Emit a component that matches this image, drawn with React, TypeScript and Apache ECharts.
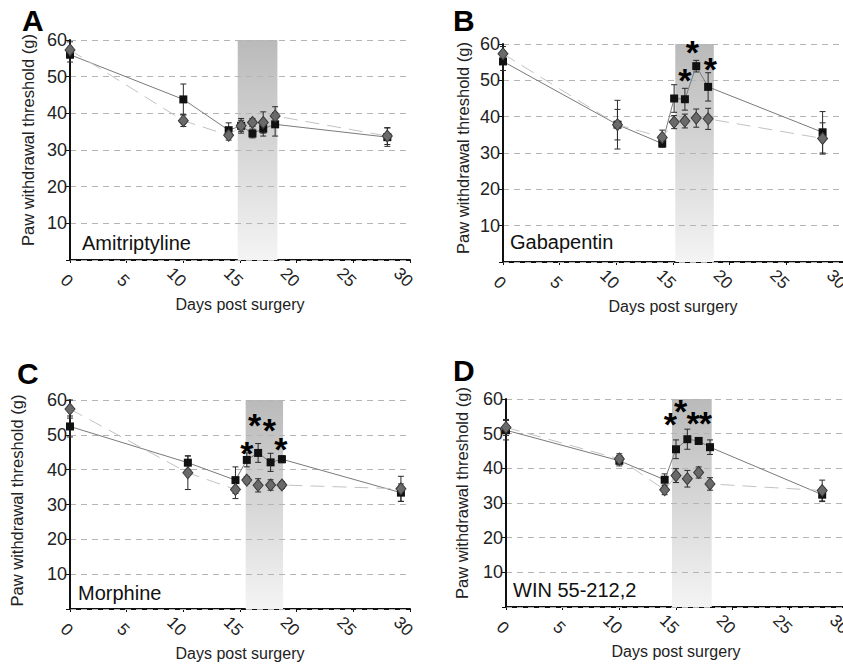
import React, { useEffect, useRef } from "react";
import * as echarts from "echarts";

const FONT = "'Liberation Sans', Arial, Helvetica, sans-serif";

// ---- Data ----
const panelLetters = ["A", "B", "C", "D"];
const drugNames = ["Amitriptyline", "Gabapentin", "Morphine", "WIN 55-212,2"];
const xTitle = "Days post surgery";
const yTitle = "Paw withdrawal threshold (g)";

const daysA = [0, 10, 14, 15.1, 16.1, 17.05, 18.1, 28];
const amitriptylineSquare = [56, 43.8, 35.4, 36.6, 34.5, 35.8, 37, 33.5];
const amitriptylineSquareErr = [2, 4.2, 2, 1.5, 1.2, 2, 3.2, 2.5];
const amitriptylineDiamond = [57.3, 38, 34, 36.6, 37.5, 37.5, 39.3, 33.8];
const amitriptylineDiamondErr = [2.2, 1.6, 1.3, 2, 1.1, 2.9, 2.5, 2.3];
const amitriptylineStars: number[][] = [];
const amitriptylineTreatment = [14.8, 18.3];

const daysB = [0, 10.1, 14.05, 15.1, 16.05, 17.05, 18.1, 28.2];
const gabapentinSquare = [55.2, 37.8, 32.6, 45, 44.8, 53.9, 48.2, 35.7];
const gabapentinSquareErr = [2.5, 4.2, 1, 3.8, 3, 1.6, 3.9, 5.7];
const gabapentinDiamond = [57.3, 37.8, 34.3, 38.5, 38.8, 39.6, 39.4, 34];
const gabapentinDiamondErr = [2, 6.7, 2, 1.8, 1.9, 2.5, 2.9, 4.3];
const gabapentinStars = [[16.05, 51.8], [16.7, 59.4], [18.3, 54.8]];
const gabapentinTreatment = [15.2, 18.6];

const daysC = [0, 10.4, 14.6, 15.6, 16.6, 17.7, 18.7, 29.2];
const morphineSquare = [52.4, 42, 37, 42.8, 44.8, 42.1, 43, 33.4];
const morphineSquareErr = [3, 2, 3.8, 2, 2.7, 2.6, 1, 2.5];
const morphineDiamond = [57.4, 39.1, 34.3, 37, 35.5, 35.6, 35.6, 34.5];
const morphineDiamondErr = [2.6, 4.8, 2.6, 1, 1.9, 1.5, 1, 3.6];
const morphineStars = [[15.6, 46.5], [16.3, 54.4], [17.6, 53], [18.6, 47.5]];
const morphineTreatment = [15.5, 18.8];

const daysD = [0, 10, 14, 15, 16, 17, 18, 27.9];
const winSquare = [51, 42.2, 36.7, 45.5, 48.4, 47.9, 46.1, 32.4];
const winSquareErr = [2.8, 1.5, 1.7, 2.7, 2.9, 1, 2.1, 2];
const winDiamond = [51.8, 42.7, 33.8, 37.9, 37, 38.8, 35.5, 33.6];
const winDiamondErr = [2.3, 1.5, 1.4, 2, 2.4, 1.6, 1.8, 3];
const winStars = [[14.5, 54.4], [15.4, 58.3], [16.5, 54.9], [17.6, 54.7]];
const winTreatment = [14.65, 18.15];

const xTicks = { min: 0, max: 30, interval: 5 };
const yTicks = { min: 0, max: 60, interval: 10 };

const panels = [
  { days: daysA, sq: amitriptylineSquare, sqErr: amitriptylineSquareErr, dm: amitriptylineDiamond, dmErr: amitriptylineDiamondErr, stars: amitriptylineStars, shade: amitriptylineTreatment },
  { days: daysB, sq: gabapentinSquare, sqErr: gabapentinSquareErr, dm: gabapentinDiamond, dmErr: gabapentinDiamondErr, stars: gabapentinStars, shade: gabapentinTreatment },
  { days: daysC, sq: morphineSquare, sqErr: morphineSquareErr, dm: morphineDiamond, dmErr: morphineDiamondErr, stars: morphineStars, shade: morphineTreatment },
  { days: daysD, sq: winSquare, sqErr: winSquareErr, dm: winDiamond, dmErr: winDiamondErr, stars: winStars, shade: winTreatment },
];

// ---- Layout ----
const grids = [
  { left: 70, top: 40, width: 340, height: 220 },
  { left: 503, top: 44, width: 340, height: 218 },
  { left: 70, top: 400, width: 340, height: 209 },
  { left: 506, top: 399, width: 340, height: 208 },
];
const yNameGap = [34, 32, 45, 36];
const yNamePad = [20, 10, 8, 20];
const letterPos = [[22, 5], [453, 5], [17, 358], [453, 355]];
const drugPos = [[82, 243], [510, 242], [78, 593], [513, 590]];

const GRAD = {
  type: "linear", x: 0, y: 0, x2: 0, y2: 1,
  colorStops: [{ offset: 0, color: "#bababa" }, { offset: 1, color: "#f4f4f4" }],
};

function errorBarItem(params: any, api: any) {
  const x = api.value(0);
  const lo = api.coord([x, api.value(1)]);
  const hi = api.coord([x, api.value(2)]);
  const w = 3;
  const style = { stroke: "#2a2a2a", lineWidth: 1 };
  return {
    type: "group",
    children: [
      { type: "line", shape: { x1: lo[0], y1: lo[1], x2: hi[0], y2: hi[1] }, style },
      { type: "line", shape: { x1: lo[0] - w, y1: lo[1], x2: lo[0] + w, y2: lo[1] }, style },
      { type: "line", shape: { x1: hi[0] - w, y1: hi[1], x2: hi[0] + w, y2: hi[1] }, style },
    ],
  };
}

export default function App() {
  const ref = useRef<HTMLDivElement>(null);
  useEffect(() => {
    const chart = echarts.init(ref.current!, null, { renderer: "svg" });
    const series: any[] = [];
    panels.forEach((p, i) => {
      series.push({
        type: "line", xAxisIndex: i, yAxisIndex: i, data: [], z: 1, silent: true,
        markArea: {
          silent: true,
          itemStyle: { color: GRAD },
          data: [[{ xAxis: p.shade[0], yAxis: 60 }, { xAxis: p.shade[1], yAxis: 0 }]],
        },
      });
      const errData: number[][] = [];
      p.days.forEach((d, k) => {
        errData.push([d, p.sq[k] - p.sqErr[k], p.sq[k] + p.sqErr[k]]);
        errData.push([d, p.dm[k] - p.dmErr[k], p.dm[k] + p.dmErr[k]]);
      });
      series.push({
        type: "custom", xAxisIndex: i, yAxisIndex: i, data: errData, z: 3,
        renderItem: errorBarItem, silent: true,
      });
      series.push({
        type: "line", xAxisIndex: i, yAxisIndex: i, z: 4,
        data: p.days.map((d, k) => [d, p.sq[k]]),
        symbol: "rect", symbolSize: 8, showAllSymbol: true,
        itemStyle: { color: "#111" },
        lineStyle: { color: "#7a7a7a", width: 1 },
      });
      series.push({
        type: "line", xAxisIndex: i, yAxisIndex: i, z: 5,
        data: p.days.map((d, k) => [d, p.dm[k]]),
        symbol: "diamond", symbolSize: [10, 12], showAllSymbol: true,
        itemStyle: { color: "#6a6a6a", borderColor: "#3a3a3a", borderWidth: 1 },
        lineStyle: { color: "#c2c2c2", width: 1, type: [14, 8] },
      });
      series.push({
        type: "scatter", xAxisIndex: i, yAxisIndex: i, z: 6,
        data: p.stars, symbolSize: 0.1, itemStyle: { color: "#000", opacity: 0 },
        label: {
          show: true, position: "top", distance: 0, formatter: "*", offset: [0, 23],
          fontSize: 34, fontWeight: "bold", color: "#000", fontFamily: FONT,
          textBorderWidth: 0, opacity: 1,
        },
      });
    });

    chart.setOption({
      animation: false,
      backgroundColor: "#fff",
      grid: grids.map((g) => ({ ...g, outerBoundsMode: "none", containLabel: false })),
      xAxis: grids.map((_, i) => ({
        gridIndex: i, type: "value", ...xTicks,
        axisLine: { show: true, onZero: false, lineStyle: { color: "#111", width: 2 } },
        axisTick: { show: true, length: 3, lineStyle: { color: "#111" } },
        axisLabel: {
          rotate: -45, align: "right", verticalAlign: "middle", margin: 24,
          fontSize: 17, color: "#222", fontFamily: FONT,
        },
        splitLine: { show: false },
        name: xTitle, nameLocation: "middle", nameGap: 36,
        nameTextStyle: { fontSize: 16, color: "#222", fontFamily: FONT },
      })),
      yAxis: grids.map((_, i) => ({
        gridIndex: i, type: "value", ...yTicks, z: 2,
        axisLine: { show: true, onZero: false, lineStyle: { color: "#111", width: 2 } },
        axisTick: { show: true, length: 4, lineStyle: { color: "#111" } },
        axisLabel: {
          fontSize: 18, color: "#222", fontFamily: FONT, margin: 3,
          formatter: (v: number) => (v === 0 ? "" : String(v)),
        },
        splitLine: { show: true, lineStyle: { color: "#b5b5b5", type: [6, 5], width: 1 } },
        name: yTitle, nameLocation: "middle", nameGap: yNameGap[i], nameRotate: 90,
        nameTextStyle: { fontSize: 16.5, color: "#222", fontFamily: FONT, padding: [0, 0, 0, yNamePad[i]] },
      })),
      graphic: [
        ...panelLetters.map((t, i) => ({
          type: "text", x: letterPos[i][0], y: letterPos[i][1],
          style: { text: t, fontSize: 30, fontWeight: "bold", fill: "#000", fontFamily: FONT, align: "left", verticalAlign: "top" },
        })),
        ...drugNames.map((t, i) => ({
          type: "text", x: drugPos[i][0], y: drugPos[i][1], z: 10,
          style: { text: t, fontSize: 20, fill: "#111", fontFamily: FONT, align: "left", verticalAlign: "middle" },
        })),
      ],
      series,
    });
    return () => chart.dispose();
  }, []);
  return (
    <div
      ref={ref}
      style={{ position: "fixed", left: 0, top: 0, width: 843, height: 666, background: "#fff" }}
    />
  );
}
